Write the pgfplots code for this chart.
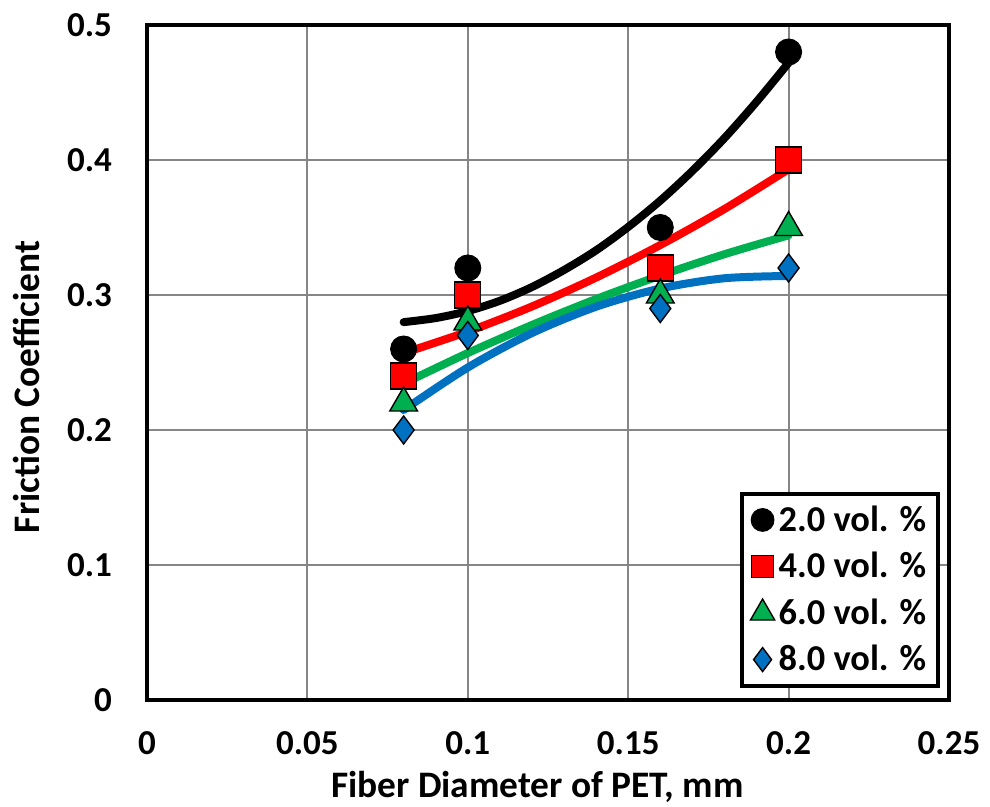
\documentclass[border=0pt]{standalone}
\usepackage{pgfplots}
\pgfplotsset{compat=1.18}
\usepackage{fontspec}
\setmainfont{Carlito}
\definecolor{gridgray}{RGB}{134,134,134}
\definecolor{xred}{RGB}{255,0,0}
\definecolor{xgreen}{RGB}{0,176,80}
\definecolor{xblue}{RGB}{0,112,192}
\begin{document}
\begin{tikzpicture}
\useasboundingbox (-73.5pt,-53.5pt) rectangle (421.5pt,350pt);
\begin{axis}[
  at={(0,0)}, anchor=south west,
  scale only axis,
  width=401pt, height=337.5pt,
  xmin=0, xmax=0.25, ymin=0, ymax=0.5,
  xtick={0,0.05,0.1,0.15,0.2,0.25},
  ytick={0,0.1,0.2,0.3,0.4,0.5},
  xticklabels={0,0.05,0.1,0.15,0.2,0.25},
  yticklabels={0,0.1,0.2,0.3,0.4,0.5},
  /pgf/number format/assume math mode=true,
  tick style={draw=none},
  grid=major,
  major grid style={draw=gridgray, line width=1pt},
  axis line style={black, line width=2pt},
  tick label style={font=\fontsize{17.5}{20}\selectfont\bfseries},
  yticklabel style={xshift=-14pt},
  xticklabel style={yshift=-12pt},
  xlabel={Fiber Diameter of PET, mm},
  ylabel={Friction Coefficient},
  label style={font=\fontsize{18.7}{22}\selectfont\bfseries},
  xlabel style={at={(axis description cs:0.4869,0)}, anchor=base, yshift=-49pt},
  ylabel style={at={(axis description cs:0,0.4637)}, anchor=base, yshift=53.5pt},
  legend style={at={(rel axis cs:0.989,0.018)}, anchor=south east,
    draw=black, line width=2pt, fill=white,
    font=\fontsize{18.2}{21}\selectfont\bfseries,
    row sep=5pt, inner xsep=4pt, inner ysep=4pt,
    nodes={inner sep=2pt}},
  legend cell align=left,
  clip=false,
]
% data markers
\addplot[only marks, mark=*, mark size=6.5pt, mark options={draw=black, fill=black, line width=0.5pt},
  legend image post style={mark size=5.7pt}]
  coordinates {(0.08,0.26) (0.1,0.32) (0.16,0.35) (0.2,0.48)};
\addlegendentry{2.0 vol. \%}
\addplot[only marks, mark=square*, mark size=6.5pt, mark options={draw=black, fill=xred, line width=0.7pt},
  legend image post style={mark size=5.5pt}]
  coordinates {(0.08,0.24) (0.1,0.30) (0.16,0.32) (0.2,0.40)};
\addlegendentry{4.0 vol. \%}
\addplot[only marks, mark=triangle*, mark size=8pt, mark options={draw=black, fill=xgreen, line width=0.7pt},
  legend image post style={mark size=7pt}]
  coordinates {(0.08,0.22) (0.1,0.28) (0.16,0.30) (0.2,0.35)};
\addlegendentry{6.0 vol. \%}
\addplot[only marks, mark=diamond*, mark size=7pt, mark options={draw=black, fill=xblue, line width=0.7pt},
  legend image post style={mark size=6pt}]
  coordinates {(0.08,0.20) (0.1,0.27) (0.16,0.29) (0.2,0.32)};
\addlegendentry{8.0 vol. \%}
% trendlines
\addplot[forget plot, smooth, black, line width=4pt, line cap=round]
  coordinates {(0.08,0.2799) (0.09,0.2829) (0.10,0.2881) (0.11,0.2957) (0.12,0.3059) (0.13,0.3185) (0.14,0.3331) (0.15,0.3504) (0.16,0.3699) (0.17,0.3919) (0.18,0.4162) (0.19,0.4431) (0.20,0.4720)};
\addplot[forget plot, smooth, xred, line width=4pt, line cap=round]
  coordinates {(0.08,0.2570) (0.10,0.2729) (0.12,0.2915) (0.14,0.3129) (0.16,0.3370) (0.18,0.3637) (0.20,0.3932)};
\addplot[forget plot, smooth, xgreen, line width=4pt, line cap=round]
  coordinates {(0.08,0.2344) (0.10,0.2570) (0.12,0.2778) (0.14,0.2970) (0.16,0.3144) (0.18,0.3302) (0.20,0.3442)};
\addplot[forget plot, smooth, xblue, line width=4pt, line cap=round]
  coordinates {(0.08,0.2148) (0.10,0.2463) (0.12,0.2718) (0.14,0.2913) (0.16,0.3048) (0.18,0.3124) (0.20,0.3141)};
\end{axis}
\end{tikzpicture}
\end{document}
